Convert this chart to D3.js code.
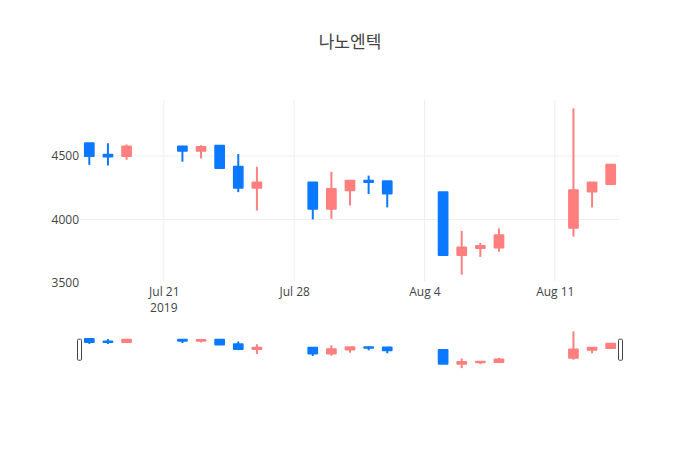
<!DOCTYPE html>
<html>
<head>
<meta charset="utf-8">
<script src="https://cdn.jsdelivr.net/npm/d3@7"></script>
<style>
    body { margin: 0; background: #fff; }
    text { font-family: "Open Sans", "Noto Sans CJK KR", sans-serif; fill: #444; }
</style>
</head>
<body>
<div id="chart"></div>
<script>
// chart data (KRW daily)
const dates  = ["2019-07-17", "2019-07-18", "2019-07-19", "2019-07-22", "2019-07-23", "2019-07-24", "2019-07-25", "2019-07-26",
                "2019-07-29", "2019-07-30", "2019-07-31", "2019-08-01", "2019-08-02", "2019-08-05", "2019-08-06", "2019-08-07",
                "2019-08-08", "2019-08-12", "2019-08-13", "2019-08-14"];
const opens  = [4600, 4510, 4500, 4575, 4540, 4580, 4415, 4250, 4290, 4085, 4230, 4305, 4300, 4215, 3720, 3775, 3780, 3935, 4220, 4280];
const highs  = [4600, 4600, 4590, 4580, 4585, 4580, 4515, 4415, 4290, 4375, 4305, 4345, 4300, 4215, 3910, 3815, 3930, 4875, 4295, 4430];
const lows   = [4430, 4425, 4470, 4455, 4480, 4400, 4215, 4070, 4000, 4005, 4110, 4200, 4095, 3720, 3565, 3705, 3745, 3865, 4095, 4280];
const closes = [4500, 4495, 4575, 4540, 4570, 4405, 4250, 4290, 4085, 4240, 4305, 4295, 4205, 3720, 3780, 3790, 3875, 4230, 4290, 4430];
const xTickDates = ["2019-07-21", "2019-07-28", "2019-08-04", "2019-08-11"];
const yTicks = [3500, 4000, 4500];
const title = "나노엔텍";

const W = 700, H = 450;
const plotLeft = 80, plotRight = 620, plotTop = 100, plotBottom = 283;
const sliderTop = 329.5, sliderBottom = 370;
const UP = "#ff7f7f", DOWN = "#0a78ff";
const DAY = 864e5;

const parse = d3.utcParse("%Y-%m-%d");
const data = dates.map((d, i) => ({
    date: parse(d), o: opens[i], h: highs[i], l: lows[i], c: closes[i]
}));

// plotly-like autorange: half a day on each side, 5% padding on values
const x = d3.scaleUtc()
    .domain([new Date(+data[0].date - DAY / 2), new Date(+data[data.length - 1].date + DAY / 2)])
    .range([plotLeft, plotRight]);
const lo = d3.min(lows), hi = d3.max(highs), pad = (hi - lo) * 0.05;
const y = d3.scaleLinear().domain([lo - pad, hi + pad]).range([plotBottom, plotTop]);
const ySlider = d3.scaleLinear().domain(y.domain()).range([sliderBottom, sliderTop]);

// body width (stroke of 2 adds to it)
const bodyW = (x(new Date(DAY)) - x(new Date(0))) * 0.47;

const svg = d3.select("#chart").append("svg")
    .attr("width", W)
    .attr("height", H);

// title
svg.append("text")
    .attr("x", W / 2)
    .attr("y", 48)
    .attr("text-anchor", "middle")
    .style("font-size", "17px")
    .text(title);

// vertical grid
svg.append("g")
    .selectAll("line")
    .data(xTickDates.map(parse))
    .join("line")
    .attr("x1", d => x(d)).attr("x2", d => x(d))
    .attr("y1", plotTop).attr("y2", plotBottom - 2)
    .attr("stroke", "#eee");

// horizontal grid (none on the bottom edge)
svg.append("g")
    .selectAll("line")
    .data(yTicks.filter(d => y(d) < plotBottom - 3))
    .join("line")
    .attr("x1", plotLeft).attr("x2", plotRight)
    .attr("y1", d => y(d)).attr("y2", d => y(d))
    .attr("stroke", "#eee");

// x axis labels
const fmt = d3.utcFormat("%b %-d");
const xAxis = svg.append("g")
    .attr("transform", "translate(0," + plotBottom + ")")
    .call(d3.axisBottom(x).tickValues(xTickDates.map(parse)).tickFormat(fmt).tickSize(0).tickPadding(0));
xAxis.select(".domain").remove();
xAxis.selectAll("text")
    .attr("y", 13)
    .attr("dy", null)
    .style("font-size", "12px")
    .attr("fill", null);
svg.append("text")
    .attr("x", x(parse(xTickDates[0])))
    .attr("y", 312)
    .attr("text-anchor", "middle")
    .style("font-size", "12px")
    .text("2019");

// y axis labels
const yAxis = svg.append("g")
    .attr("transform", "translate(" + (plotLeft - 1) + ",0)")
    .call(d3.axisLeft(y).tickValues(yTicks).tickFormat(d3.format("d")).tickSize(0).tickPadding(0));
yAxis.select(".domain").remove();
yAxis.selectAll("text")
    .style("font-size", "12px")
    .attr("fill", null);
yAxis.attr("font-family", null).attr("font-size", null);
xAxis.attr("font-family", null).attr("font-size", null);

function drawCandles(g, ys) {
    const c = g.selectAll(".candle")
        .data(data)
        .join("g")
        .attr("class", "candle")
        .attr("fill", d => d.c >= d.o ? UP : DOWN)
        .attr("stroke", d => d.c >= d.o ? UP : DOWN);

    c.append("line")
        .attr("x1", d => x(d.date)).attr("x2", d => x(d.date))
        .attr("y1", d => ys(d.h)).attr("y2", d => ys(d.l))
        .attr("stroke-width", 2);

    c.append("rect")
        .attr("x", d => x(d.date) - bodyW / 2)
        .attr("width", bodyW)
        .attr("y", d => ys(Math.max(d.o, d.c)))
        .attr("height", d => Math.max(0.5, Math.abs(ys(d.o) - ys(d.c))))
        .attr("stroke-width", 2)
        .attr("stroke-linejoin", "round");
}

drawCandles(svg.append("g"), y);

// range slider
const slider = svg.append("g");
slider.append("rect")
    .attr("x", plotLeft).attr("y", sliderTop)
    .attr("width", plotRight - plotLeft).attr("height", sliderBottom - sliderTop)
    .attr("fill", "#fff");
drawCandles(slider.append("g"), ySlider);

const grabH = 21, grabY = (sliderTop + sliderBottom) / 2 - grabH / 2;
slider.selectAll(".grabber")
    .data([plotLeft - 2.5, plotRight - 1.5])
    .join("rect")
    .attr("class", "grabber")
    .attr("x", d => d)
    .attr("y", grabY)
    .attr("width", 4)
    .attr("height", grabH)
    .attr("rx", 1)
    .attr("fill", "#fff")
    .attr("stroke", "#444")
    .attr("stroke-width", 1);
</script>
</body>
</html>
